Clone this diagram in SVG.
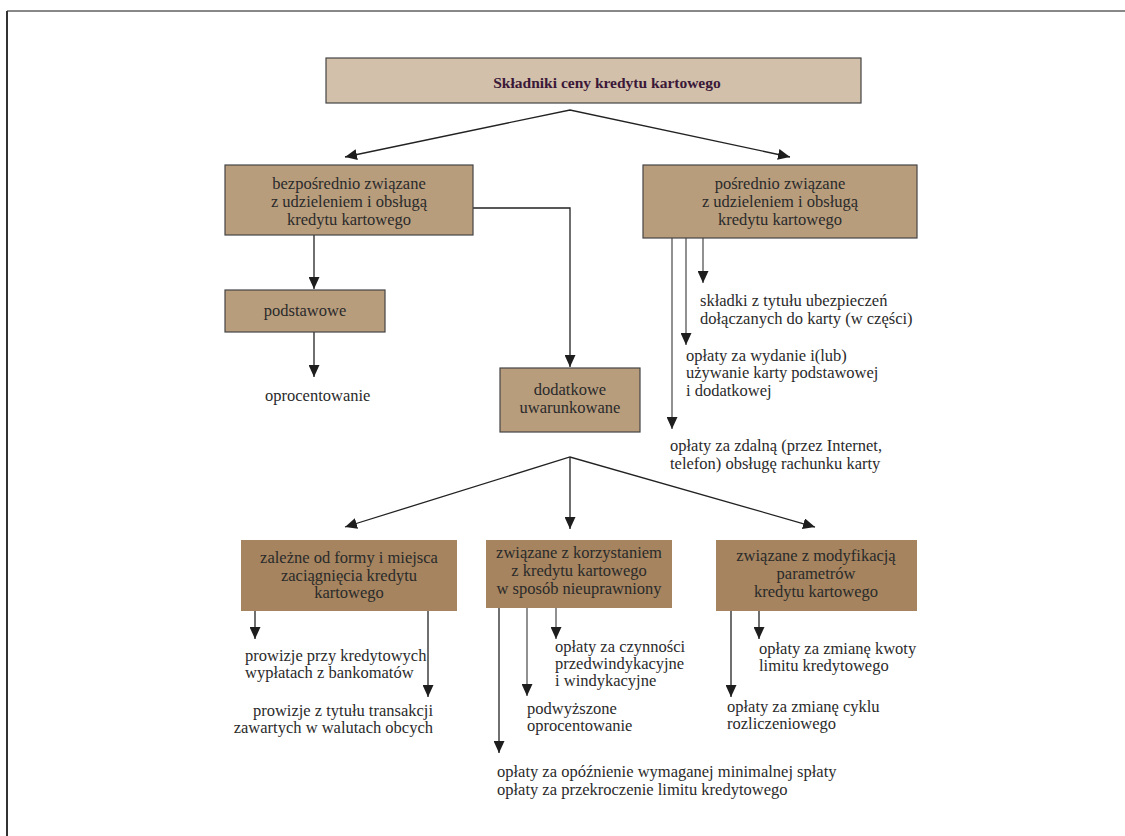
<svg xmlns="http://www.w3.org/2000/svg" width="1125" height="836" viewBox="0 0 1125 836">
<defs>
<marker id="ah" viewBox="0 0 12 11" refX="12" refY="5.5" markerWidth="12" markerHeight="11" markerUnits="userSpaceOnUse" orient="auto-start-reverse">
<path d="M0,0 L12,5.5 L0,11 Z" fill="#1e1e1e"/>
</marker>
</defs>
<style>
text{font-family:"Liberation Serif","Times New Roman",serif;font-size:16.5px;fill:#2a2a2a}
.c{text-anchor:middle}
.e{text-anchor:end}
.title{font-weight:bold;fill:#3a1838;font-size:15.5px}
.b0{fill:#d3c0ab;stroke:#444;stroke-width:1.2}
.b1{fill:#b89d7d;stroke:#444;stroke-width:1.2}
.b2{fill:#a5845f}
.ln{fill:none;stroke:#222;stroke-width:1.3}
.lg{fill:none;stroke:#555;stroke-width:1.3}
</style>
<rect width="1125" height="836" fill="#fff"/>
<line x1="7" y1="11" x2="1125" y2="11" stroke="#888" stroke-width="2"/>
<line x1="7" y1="11" x2="7" y2="836" stroke="#333" stroke-width="2"/>

<g id="connectors">
<polyline class="ln" points="345,157 570,110 790,157" marker-start="url(#ah)" marker-end="url(#ah)"/>
<line class="ln" x1="314" y1="235" x2="314" y2="289" marker-end="url(#ah)"/>
<polyline class="ln" points="473,208 570,208 570,367" marker-end="url(#ah)"/>
<line class="ln" x1="314" y1="332" x2="314" y2="377" marker-end="url(#ah)"/>
<line class="lg" x1="703" y1="238" x2="703" y2="283" marker-end="url(#ah)"/>
<line class="lg" x1="686" y1="238" x2="686" y2="345" marker-end="url(#ah)"/>
<line class="lg" x1="672" y1="238" x2="672" y2="429" marker-end="url(#ah)"/>
<polyline class="ln" points="345,527 570,457 815,527" marker-start="url(#ah)" marker-end="url(#ah)"/>
<line class="ln" x1="570" y1="457" x2="570" y2="529" marker-end="url(#ah)"/>
<line class="ln" x1="255" y1="611" x2="255" y2="639" marker-end="url(#ah)"/>
<line class="ln" x1="428" y1="611" x2="428" y2="697" marker-end="url(#ah)"/>
<line class="lg" x1="556" y1="608" x2="556" y2="639" marker-end="url(#ah)"/>
<line class="lg" x1="527" y1="608" x2="527" y2="696" marker-end="url(#ah)"/>
<line class="ln" x1="499" y1="608" x2="499" y2="753" marker-end="url(#ah)"/>
<line class="ln" x1="759" y1="611" x2="759" y2="639" marker-end="url(#ah)"/>
<line class="ln" x1="731" y1="611" x2="731" y2="697" marker-end="url(#ah)"/>
</g>

<g id="title">
<rect class="b0" x="326" y="58" width="535" height="45"/>
<text class="c title" x="607" y="88">Składniki ceny kredytu kartowego</text>
</g>

<g id="bezposrednio">
<rect class="b1" x="225" y="165" width="248" height="70"/>
<text class="c" x="349" y="189">bezpośrednio związane</text>
<text class="c" x="349" y="207">z udzieleniem i obsługą</text>
<text class="c" x="349" y="225">kredytu kartowego</text>
</g>

<g id="posrednio">
<rect class="b1" x="643" y="165" width="274" height="73"/>
<text class="c" x="780" y="189">pośrednio związane</text>
<text class="c" x="780" y="207">z udzieleniem i obsługą</text>
<text class="c" x="780" y="225">kredytu kartowego</text>
</g>

<g id="podstawowe">
<rect class="b1" x="225" y="290" width="160" height="42"/>
<text class="c" x="305" y="316">podstawowe</text>
</g>

<g id="oprocentowanie">
<text x="265" y="401">oprocentowanie</text>
</g>

<g id="dodatkowe">
<rect class="b1" x="500" y="368" width="140" height="64"/>
<text class="c" x="570" y="395">dodatkowe</text>
<text class="c" x="570" y="413">uwarunkowane</text>
</g>

<g id="skladki">
<text x="700" y="306">składki z tytułu ubezpieczeń</text>
<text x="700" y="324">dołączanych do karty (w części)</text>
</g>

<g id="wydanie">
<text x="686" y="361">opłaty za wydanie i(lub)</text>
<text x="686" y="378">używanie karty podstawowej</text>
<text x="686" y="396">i dodatkowej</text>
</g>

<g id="zdalna">
<text x="670" y="451">opłaty za zdalną (przez Internet,</text>
<text x="670" y="469">telefon) obsługę rachunku karty</text>
</g>

<g id="zalezne">
<rect class="b2" x="241" y="540" width="216" height="71"/>
<text class="c" x="349" y="563">zależne od formy i miejsca</text>
<text class="c" x="349" y="581">zaciągnięcia kredytu</text>
<text class="c" x="349" y="598">kartowego</text>
</g>

<g id="korzystanie">
<rect class="b2" x="486" y="540" width="186" height="68"/>
<text class="c" x="579" y="558">związane z korzystaniem</text>
<text class="c" x="579" y="576">z kredytu kartowego</text>
<text class="c" x="579" y="594">w sposób nieuprawniony</text>
</g>

<g id="modyfikacja">
<rect class="b2" x="716" y="540" width="201" height="71"/>
<text class="c" x="816" y="561">związane z modyfikacją</text>
<text class="c" x="816" y="579">parametrów</text>
<text class="c" x="816" y="597">kredytu kartowego</text>
</g>

<g id="prowizje1">
<text x="245" y="661">prowizje przy kredytowych</text>
<text x="245" y="678">wypłatach z bankomatów</text>
</g>

<g id="prowizje2">
<text class="e" x="433" y="716">prowizje z tytułu transakcji</text>
<text class="e" x="433" y="733">zawartych w walutach obcych</text>
</g>

<g id="czynnosci">
<text x="555" y="652">opłaty za czynności</text>
<text x="555" y="669">przedwindykacyjne</text>
<text x="555" y="686">i windykacyjne</text>
</g>

<g id="podwyzszone">
<text x="527" y="714">podwyższone</text>
<text x="527" y="731">oprocentowanie</text>
</g>

<g id="opoznienie">
<text x="497" y="777">opłaty za opóźnienie wymaganej minimalnej spłaty</text>
<text x="497" y="795">opłaty za przekroczenie limitu kredytowego</text>
</g>

<g id="kwoty">
<text x="759" y="654">opłaty za zmianę kwoty</text>
<text x="759" y="671">limitu kredytowego</text>
</g>

<g id="cyklu">
<text x="727" y="712">opłaty za zmianę cyklu</text>
<text x="727" y="729">rozliczeniowego</text>
</g>
</svg>
